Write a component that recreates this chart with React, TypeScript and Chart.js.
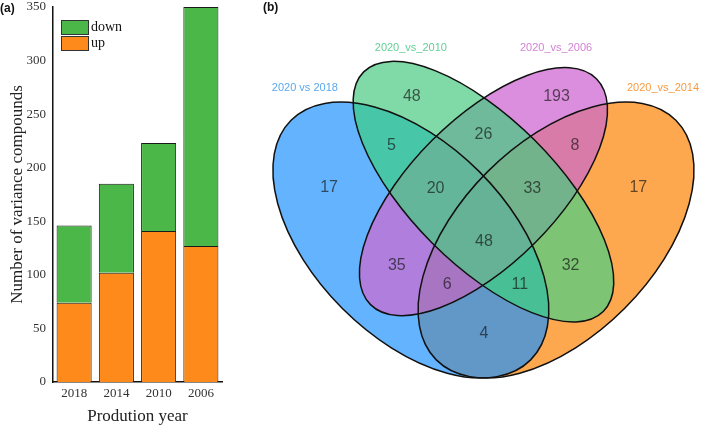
import React, { useEffect, useRef } from 'react';
import { Chart, registerables } from 'chart.js';
Chart.register(...registerables);

// ---------- Panel (a) data ----------
const years = ['2018', '2014', '2010', '2006'];
const upValues = [74, 102, 141, 127];
const downValues = [72, 83, 82, 223];
const yMax = 350;
const yStep = 50;

// ---------- Panel (b) data ----------
const setNames = ['2020 vs 2018', '2020_vs_2010', '2020_vs_2006', '2020_vs_2014'];
const regionSets = [
  [0], [1], [2], [3],
  [0, 1], [1, 2], [2, 3], [0, 2], [1, 3], [0, 3],
  [0, 1, 2], [1, 2, 3], [0, 2, 3], [0, 1, 3],
  [0, 1, 2, 3],
];
const regionCounts = [17, 48, 193, 17, 5, 26, 8, 35, 32, 4, 20, 33, 6, 11, 48];

// geometry (unit coordinates of the Venn layout)
const ellipseCX = [0.35, 0.5, 0.5, 0.65];
const ellipseCY = [0.47, 0.57, 0.57, 0.47];
const ellipseA = [0.35, 0.35, 0.33, 0.35];
const ellipseB = [0.2, 0.15, 0.15, 0.2];
const ellipseRot = [135, 135, 45, 45];
const regionLabelX = [0.181, 0.352, 0.651, 0.82, 0.31, 0.5, 0.689, 0.321, 0.68, 0.501, 0.401, 0.601, 0.425, 0.575, 0.501];
const regionLabelY = [0.578, 0.766, 0.766, 0.578, 0.666, 0.687, 0.666, 0.417, 0.417, 0.277, 0.577, 0.577, 0.378, 0.378, 0.467];
const setLabelX = [0.131, 0.35, 0.65, 0.871];
const setLabelY = [0.784, 0.867, 0.867, 0.784];

// styles
const regionColors = [
  '#64b3fe', '#80daa7', '#da8edd', '#fda84f',
  '#47c7a8', '#6eba9b', '#d97ba8', '#b07edc', '#7dc475', '#6298c8',
  '#64b69b', '#72b38c', '#a775c2', '#48bf95',
  '#65b296',
];
const setLabelColors = ['#5ba8ec', '#62cf97', '#d482d6', '#f89b40'];
const upColor = '#fe8a1b';
const downColor = '#4cb749';
const serif = '"Liberation Serif", "DejaVu Serif", serif';
const sans = '"Liberation Sans", Arial, sans-serif';

const barExtras = {
  id: 'barExtras',
  afterDraw(chart: any) {
    const ctx = chart.ctx;
    ctx.save();
    ctx.fillStyle = '#111';
    ctx.font = `bold 12px ${sans}`;
    ctx.textBaseline = 'middle';
    ctx.textAlign = 'left';
    ctx.fillText('(a)', 0, 9);
    // legend: down then up
    const items = [chart.data.datasets[1], chart.data.datasets[0]];
    items.forEach((ds: any, i: number) => {
      const y = 20 + i * 16;
      ctx.fillStyle = ds.backgroundColor;
      ctx.fillRect(61, y, 27, 14);
      ctx.strokeStyle = '#333';
      ctx.lineWidth = 1;
      ctx.strokeRect(61.5, y + 0.5, 27, 14);
      ctx.fillStyle = '#111';
      ctx.font = `14px ${serif}`;
      ctx.fillText(ds.label, 91, y + 7);
    });
    ctx.restore();
  },
};

const vennPlugin = {
  id: 'vennPlugin',
  beforeDatasetsDraw(chart: any) {
    const ctx = chart.ctx;
    const xs = chart.scales.x;
    const ys = chart.scales.y;
    const unit = Math.abs(xs.getPixelForValue(1) - xs.getPixelForValue(0));
    const path = (i: number) => {
      ctx.beginPath();
      ctx.ellipse(
        xs.getPixelForValue(ellipseCX[i]),
        ys.getPixelForValue(ellipseCY[i]),
        ellipseA[i] * unit,
        ellipseB[i] * unit,
        (-ellipseRot[i] * Math.PI) / 180,
        0,
        Math.PI * 2
      );
    };
    // paint regions by increasing cardinality
    const order = regionSets.map((s, i) => i).sort((a, b) => regionSets[a].length - regionSets[b].length);
    order.forEach((r) => {
      ctx.save();
      regionSets[r].forEach((e) => {
        path(e);
        ctx.clip();
      });
      ctx.fillStyle = regionColors[r];
      ctx.fillRect(0, 0, chart.width, chart.height);
      ctx.restore();
    });
    ctx.save();
    ctx.strokeStyle = '#111';
    ctx.lineWidth = 1.5;
    for (let i = 0; i < 4; i++) {
      path(i);
      ctx.stroke();
    }
    ctx.restore();
  },
  afterDatasetsDraw(chart: any) {
    const ctx = chart.ctx;
    const xs = chart.scales.x;
    const ys = chart.scales.y;
    ctx.save();
    ctx.textAlign = 'center';
    ctx.textBaseline = 'middle';
    const meta = chart.getDatasetMeta(0);
    ctx.font = `16px ${sans}`;
    ctx.fillStyle = 'rgba(20,20,20,0.68)';
    meta.data.forEach((el: any, i: number) => {
      ctx.fillText(String(regionCounts[i]), el.x, el.y);
    });
    ctx.font = `11px ${sans}`;
    setNames.forEach((n, i) => {
      ctx.fillStyle = setLabelColors[i];
      ctx.fillText(n, xs.getPixelForValue(setLabelX[i]), ys.getPixelForValue(setLabelY[i]));
    });
    ctx.fillStyle = '#111';
    ctx.font = `bold 12px ${sans}`;
    ctx.textAlign = 'left';
    ctx.fillText('(b)', 23, 8);
    ctx.restore();
  },
};

export default function App() {
  const barRef = useRef<HTMLCanvasElement>(null);
  const vennRef = useRef<HTMLCanvasElement>(null);

  useEffect(() => {
    const bar = new Chart(barRef.current!, {
      type: 'bar',
      data: {
        labels: years,
        datasets: [
          { label: 'up', data: upValues, backgroundColor: upColor, borderColor: '#1a1a1a', borderWidth: 1 },
          { label: 'down', data: downValues, backgroundColor: downColor, borderColor: '#1a1a1a', borderWidth: 1 },
        ],
      },
      options: {
        responsive: false,
        animation: false,
        devicePixelRatio: 1,
        layout: { padding: { left: 0, right: 18, top: 0, bottom: 0 } },
        categoryPercentage: 1,
        barPercentage: 0.83,
        plugins: { legend: { display: false }, tooltip: { enabled: false } },
        scales: {
          x: {
            stacked: true,
            grid: { display: false, drawTicks: false, tickLength: 0 },
            border: { display: true, color: '#111', width: 1.5 },
            ticks: { font: { family: serif, size: 13 }, color: '#333', padding: 4 },
            title: {
              display: true,
              text: 'Prodution year',
              font: { family: serif, size: 17 },
              color: '#222',
              padding: { top: 0, bottom: 1 },
            },
            afterFit: (s: any) => { s.height = 46; },
          },
          y: {
            stacked: true,
            min: 0,
            max: yMax,
            grid: { display: false, drawTicks: false, tickLength: 0 },
            border: { display: true, color: '#111', width: 1.5 },
            ticks: { stepSize: yStep, font: { family: serif, size: 13 }, color: '#333', padding: 7 },
            title: {
              display: true,
              text: 'Number of variance compounds',
              font: { family: serif, size: 17 },
              color: '#222',
              padding: { top: 7, bottom: 0 },
            },
            afterFit: (s: any) => { s.width = 53; s.paddingTop = 7; },
          },
        },
      } as any,
      plugins: [barExtras],
    });

    const venn = new Chart(vennRef.current!, {
      type: 'scatter',
      data: {
        datasets: [
          {
            label: 'regions',
            data: regionCounts.map((c, i) => ({ x: regionLabelX[i], y: regionLabelY[i] })),
            pointRadius: 0,
            pointHoverRadius: 0,
          },
        ],
      },
      options: {
        responsive: false,
        animation: false,
        devicePixelRatio: 1,
        layout: { padding: 0 },
        plugins: { legend: { display: false }, tooltip: { enabled: false } },
        scales: {
          x: { type: 'linear', min: -0.003, max: 0.966, display: false },
          y: { type: 'linear', min: 0.0817, max: 0.966, display: false },
        },
      } as any,
      plugins: [vennPlugin],
    });

    return () => {
      bar.destroy();
      venn.destroy();
    };
  }, []);

  return (
    <div style={{ position: 'fixed', left: 0, top: 0, width: 709, height: 428, background: '#fff', display: 'flex' }}>
      <canvas ref={barRef} width={240} height={428} style={{ width: 240, height: 428, display: 'block' }} />
      <canvas ref={vennRef} width={469} height={428} style={{ width: 469, height: 428, display: 'block' }} />
    </div>
  );
}
